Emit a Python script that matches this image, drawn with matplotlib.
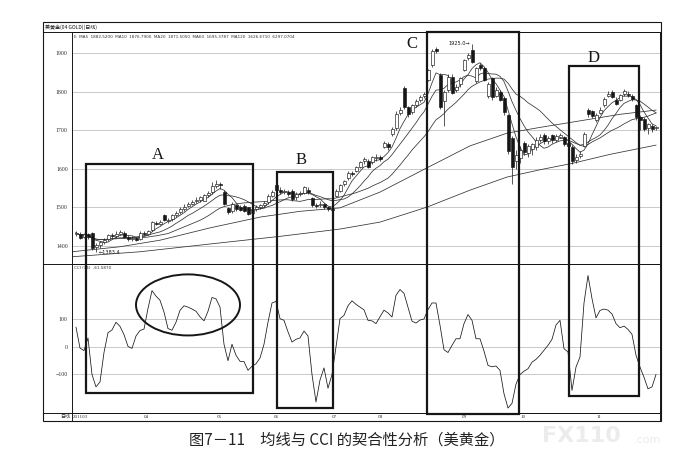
import numpy as np
import pandas as pd
import matplotlib
matplotlib.use('Agg')
import matplotlib.pyplot as plt
import matplotlib.transforms as mtrans
from matplotlib.patches import Rectangle, Ellipse
from matplotlib.lines import Line2D

plt.rcParams['font.family'] = ['Liberation Serif', 'Noto Sans CJK SC', 'DejaVu Sans']

# daily candles
opens = [1430, 1432, 1424, 1430, 1434, 1398, 1402, 1410, 1418, 1428,
         1426, 1432, 1434, 1424, 1418, 1420, 1418, 1434, 1432, 1442,
         1460, 1458, 1480, 1466, 1470, 1480, 1488, 1496, 1504, 1510,
         1516, 1520, 1518, 1532, 1540, 1556, 1560, 1540, 1498, 1490,
         1506, 1500, 1504, 1500, 1486, 1496, 1500, 1506, 1514, 1530,
         1558, 1546, 1540, 1540, 1544, 1526, 1534, 1538, 1546, 1524,
         1506, 1506, 1508, 1500, 1496, 1530, 1544, 1560, 1576, 1590,
         1596, 1606, 1620, 1622, 1618, 1628, 1630, 1658, 1664, 1690,
         1706, 1746, 1810, 1760, 1748, 1766, 1780, 1790, 1832, 1870,
         1912, 1844, 1776, 1806, 1840, 1806, 1820, 1858, 1888, 1908,
         1828, 1870, 1862, 1790, 1836, 1790, 1800, 1784, 1740, 1680,
         1622, 1628, 1668, 1642, 1652, 1656, 1676, 1688, 1672, 1688,
         1674, 1684, 1682, 1668, 1658, 1624, 1634, 1660, 1752, 1750,
         1728, 1746, 1766, 1790, 1800, 1780, 1780, 1794, 1796, 1790,
         1766, 1734, 1730, 1706, 1712, 1706]
closes = [1434, 1422, 1430, 1424, 1395, 1402, 1410, 1416, 1428, 1426,
          1432, 1436, 1424, 1418, 1422, 1416, 1434, 1432, 1438, 1462,
          1458, 1462, 1468, 1468, 1480, 1486, 1496, 1502, 1510, 1514,
          1520, 1526, 1532, 1538, 1556, 1562, 1558, 1510, 1488, 1510,
          1496, 1494, 1492, 1484, 1496, 1502, 1506, 1512, 1530, 1540,
          1546, 1540, 1542, 1536, 1522, 1534, 1538, 1552, 1540, 1506,
          1504, 1510, 1502, 1496, 1494, 1542, 1558, 1568, 1590, 1588,
          1604, 1618, 1626, 1606, 1630, 1632, 1626, 1668, 1656, 1704,
          1744, 1752, 1762, 1744, 1766, 1776, 1786, 1794, 1856, 1906,
          1906, 1762, 1800, 1840, 1798, 1812, 1836, 1882, 1896, 1878,
          1862, 1862, 1832, 1822, 1786, 1806, 1780, 1748, 1648, 1604,
          1636, 1650, 1644, 1660, 1664, 1676, 1684, 1672, 1680, 1674,
          1686, 1688, 1666, 1660, 1620, 1632, 1640, 1692, 1742, 1738,
          1740, 1754, 1782, 1796, 1788, 1770, 1792, 1802, 1792, 1782,
          1734, 1728, 1704, 1716, 1704, 1708]
highs = [1438, 1436, 1433, 1434, 1436, 1408, 1414, 1420, 1432, 1434,
         1438, 1442, 1438, 1428, 1426, 1424, 1438, 1438, 1442, 1466,
         1466, 1468, 1484, 1472, 1484, 1490, 1500, 1508, 1514, 1520,
         1528, 1530, 1536, 1544, 1566, 1572, 1566, 1546, 1502, 1514,
         1510, 1506, 1508, 1502, 1500, 1506, 1510, 1516, 1534, 1546,
         1562, 1552, 1548, 1546, 1548, 1540, 1544, 1556, 1552, 1528,
         1512, 1516, 1512, 1504, 1500, 1548, 1562, 1572, 1594, 1596,
         1608, 1622, 1630, 1626, 1634, 1638, 1636, 1672, 1670, 1710,
         1750, 1760, 1816, 1764, 1770, 1782, 1792, 1800, 1860, 1912,
         1916, 1850, 1806, 1846, 1846, 1820, 1840, 1886, 1902, 1925,
         1866, 1874, 1866, 1826, 1840, 1812, 1806, 1788, 1744, 1686,
         1650, 1660, 1672, 1664, 1668, 1682, 1690, 1694, 1686, 1692,
         1692, 1694, 1686, 1672, 1662, 1640, 1646, 1696, 1758, 1754,
         1746, 1760, 1786, 1802, 1806, 1786, 1796, 1808, 1802, 1794,
         1770, 1740, 1734, 1720, 1718, 1712]
lows = [1426, 1418, 1420, 1418, 1390, 1384, 1396, 1406, 1414, 1422,
        1422, 1428, 1420, 1414, 1414, 1412, 1416, 1428, 1428, 1440,
        1454, 1454, 1464, 1460, 1466, 1476, 1484, 1492, 1500, 1506,
        1512, 1514, 1516, 1528, 1536, 1550, 1548, 1506, 1482, 1486,
        1492, 1490, 1488, 1480, 1482, 1492, 1496, 1502, 1510, 1526,
        1542, 1536, 1534, 1530, 1518, 1520, 1530, 1534, 1536, 1502,
        1498, 1502, 1496, 1490, 1488, 1526, 1540, 1556, 1572, 1582,
        1592, 1602, 1614, 1602, 1614, 1622, 1620, 1654, 1650, 1686,
        1702, 1740, 1756, 1736, 1742, 1760, 1774, 1784, 1828, 1866,
        1900, 1756, 1712, 1800, 1794, 1800, 1814, 1854, 1884, 1874,
        1824, 1856, 1828, 1784, 1780, 1786, 1776, 1740, 1640, 1560,
        1600, 1616, 1636, 1630, 1636, 1650, 1670, 1666, 1666, 1668,
        1670, 1680, 1660, 1654, 1612, 1616, 1628, 1656, 1736, 1732,
        1722, 1742, 1762, 1786, 1784, 1766, 1776, 1790, 1786, 1776,
        1728, 1700, 1698, 1690, 1696, 1700]

cci = [72, -4, -13, 33, -100, -145, -127, -20, 52, 62,
       90, 75, 45, 2, -5, 40, 60, 65, 140, 205,
       185, 170, 127, 67, 61, 90, 133, 150, 145, 138,
       130, 110, 95, 130, 180, 175, 145, 10, -50, 10,
       -30, -52, -53, -85, -70, -61, -40, 10, 90, 160,
       166, 103, 97, 55, 18, 28, 33, 58, 40, -100,
       -200, -120, -76, -150, -100, 0, 103, 115, 150, 168,
       155, 145, 135, 97, 95, 85, 110, 134, 124, 109,
       188, 209, 195, 145, 94, 87, 98, 102, 136, 160,
       160, 79, -10, -20, 6, 30, 30, 85, 118, 97,
       30, 30, -15, -67, -72, -69, -85, -170, -222, -205,
       -135, -100, -88, -79, -55, -45, -30, -12, 6, 28,
       80, 97, -6, -18, -158, -73, -36, 160, 260, 176,
       106, 133, 138, 134, 120, 85, 70, 76, 64, 46,
       -30, -73, -110, -152, -145, -100]

# long moving averages
ma60_idx = [-1, 11, 21, 33.5, 46, 56, 66, 76, 87.75, 98.5, 107.75, 116, 126, 136, 145]
ma60_val = [1385, 1398, 1415, 1447, 1475, 1490, 1499, 1540, 1603, 1660, 1693, 1708, 1725, 1742, 1753]
ma120_idx = [-1, 16, 36, 51, 66, 76, 87.75, 98.5, 107.75, 116, 124.25, 133.5, 145]
ma120_val = [1372, 1385, 1408, 1425, 1444, 1462, 1501, 1545, 1579, 1598, 1615, 1638, 1662]

month_pos = [-0.8, 17.5, 35.75, 50, 64.5, 76, 97, 111.75, 130.75]
month_labels = ['201103', '04', '05', '06', '07', '08', '09', '10', '11']

price_ticks = [1400, 1500, 1600, 1700, 1800, 1900]
cci_ticks = [-100, 0, 100]

box_labels = ['A', 'B', 'C', 'D']
box_left = [2.5, 50.25, 87.75, 123.25]
box_right = [44.25, 64.25, 110.75, 140.75]
box_top = [1613, 1592, 1956, 1868]
box_bottom = [-167, -222, -244, -178]
label_x = [20.5, 56.25, 84, 129.5]
label_y = [1636, 1623, 1925, 1888]

ink = '#161616'
W, H = 699, 475


def px_box(x0, y0, x1, y1):
    return [x0 / W, 1 - y1 / H, (x1 - x0) / W, (y1 - y0) / H]


fig = plt.figure(figsize=(6.99, 4.75), dpi=100)
ax_p = fig.add_axes(px_box(72, 32, 660, 264))
ax_c = fig.add_axes(px_box(72, 264, 660, 413))
ax_d = fig.add_axes(px_box(72, 413, 660, 421))

idx = np.arange(len(closes))
o = np.array(opens)
c = np.array(closes)
h = np.array(highs)
l = np.array(lows)
up = c >= o

# price panel
ax_p.vlines(idx, l, h, color=ink, lw=0.5, zorder=3)
ax_p.bar(idx, np.maximum(np.abs(c - o), 2), bottom=np.minimum(o, c), width=0.75,
         color=np.where(up, 'white', ink), edgecolor=ink, lw=0.45, zorder=4)

s = pd.Series(closes)
for n in (5, 10, 20):
    ax_p.plot(idx, s.rolling(n, min_periods=1).mean(), color='#333333', lw=0.55, zorder=2)
ax_p.plot(ma60_idx, ma60_val, color='#333333', lw=0.55, zorder=2)
ax_p.plot(ma120_idx, ma120_val, color='#333333', lw=0.55, zorder=2)

ax_p.set_xlim(-1, 146)
ax_p.set_ylim(1353.2, 1955.8)
ax_p.set_yticks(price_ticks)
ax_p.set_xticks([])
ax_p.grid(axis='y', color='#b4b4b4', lw=0.5)
ax_p.set_axisbelow(True)
ax_p.tick_params(axis='y', length=0, labelsize=4.2, pad=3, labelcolor='#333333')

ax_p.text(98.6, 1925, '1925.0\u2192', ha='right', va='center', fontsize=3.6, color=ink,
          family=['DejaVu Sans'])
ax_p.text(5.6, 1384, '\u21901383.4', ha='left', va='center', fontsize=3.6, color=ink,
          family=['DejaVu Sans'])
ax_p.text(0.003, 0.985, 'E  MA5  1882.5200  MA10  1876.7900  MA20  1871.5050  MA60  1695.3787  '
          'MA120  1626.6710  6297.0704', transform=ax_p.transAxes, ha='left', va='top',
          fontsize=3.0, color='#333333', family=['DejaVu Sans'])

# CCI panel
ax_c.plot(idx, cci, color=ink, lw=0.55)
ax_c.set_xlim(-1, 146)
ax_c.set_ylim(-240, 301.8)
ax_c.set_yticks(cci_ticks)
ax_c.set_xticks([])
ax_c.grid(axis='y', color='#b4b4b4', lw=0.5)
ax_c.set_axisbelow(True)
ax_c.tick_params(axis='y', length=0, labelsize=4.2, pad=3, labelcolor='#333333')
ax_c.text(0.003, 0.985, 'CCI (14)  -61.5870', transform=ax_c.transAxes, ha='left', va='top',
          fontsize=3.0, color='#333333', family=['DejaVu Sans'])
ax_c.add_patch(Ellipse((28, 153), 26, 222, fill=False, ec=ink, lw=1.4, clip_on=False, zorder=5))

# date row
ax_d.set_xlim(-1, 146)
ax_d.set_ylim(0, 1)
ax_d.set_xticks([])
ax_d.set_yticks([])
tr = mtrans.blended_transform_factory(ax_d.transData, ax_d.transAxes)
for k, (pos, lab) in enumerate(zip(month_pos, month_labels)):
    ax_d.text(pos, 0.5, lab, transform=tr, ha='left' if k == 0 else 'center', va='center',
              fontsize=3.6, color='#333333')
ax_d.text(-0.004, 0.5, '日线', transform=ax_d.transAxes, ha='right', va='center',
          fontsize=3.6, color='#333333', family=['Noto Sans CJK SC', 'DejaVu Sans'])

for ax in (ax_p, ax_c, ax_d):
    for sp in ax.spines.values():
        sp.set_color(ink)
        sp.set_linewidth(0.7)

# outer frame and separators
fig.add_artist(Rectangle((43 / W, 1 - 421 / H), 618 / W, 399 / H, transform=fig.transFigure,
                         fill=False, ec=ink, lw=0.8))
for yy in (32, 264, 413):
    fig.add_artist(Line2D([43 / W, 661 / W], [1 - yy / H, 1 - yy / H], transform=fig.transFigure,
                          color=ink, lw=0.7))
fig.text(45 / W, 1 - 27 / H, '美黄金(04 GOLD)(日线)', ha='left', va='center', fontsize=3.6,
         color=ink, family=['Noto Sans CJK SC', 'DejaVu Sans'])

# highlight boxes spanning both panels
inv = fig.transFigure.inverted()
for lab, x0, x1, top, bot, lx, ly in zip(box_labels, box_left, box_right, box_top, box_bottom,
                                          label_x, label_y):
    fx0, fy1 = inv.transform(ax_p.transData.transform((x0, top)))
    fx1, _ = inv.transform(ax_p.transData.transform((x1, top)))
    _, fy0 = inv.transform(ax_c.transData.transform((x0, bot)))
    fig.add_artist(Rectangle((fx0, fy0), fx1 - fx0, fy1 - fy0, transform=fig.transFigure,
                             fill=False, ec=ink, lw=1.6, zorder=6))
    ax_p.text(lx, ly, lab, ha='center', va='center', fontsize=12, color=ink,
              family=['Liberation Serif'], clip_on=False, zorder=6)

# caption and watermark
fig.text(347 / W, 1 - 440 / H, '图7－11　均线与 CCI 的契合性分析（美黄金）', ha='center', va='center',
         fontsize=11, color='#222222', family=['Noto Sans CJK SC', 'DejaVu Sans'])
fig.text(542 / W, 1 - 436 / H, 'FX110', ha='left', va='center', fontsize=16, weight='bold',
         color='#ececec', family=['DejaVu Sans'], zorder=0)
fig.text(634 / W, 1 - 440 / H, '.com', ha='left', va='center', fontsize=8,
         color='#ececec', family=['DejaVu Sans'], zorder=0)

fig.savefig('out.png', dpi=100, facecolor='white')
